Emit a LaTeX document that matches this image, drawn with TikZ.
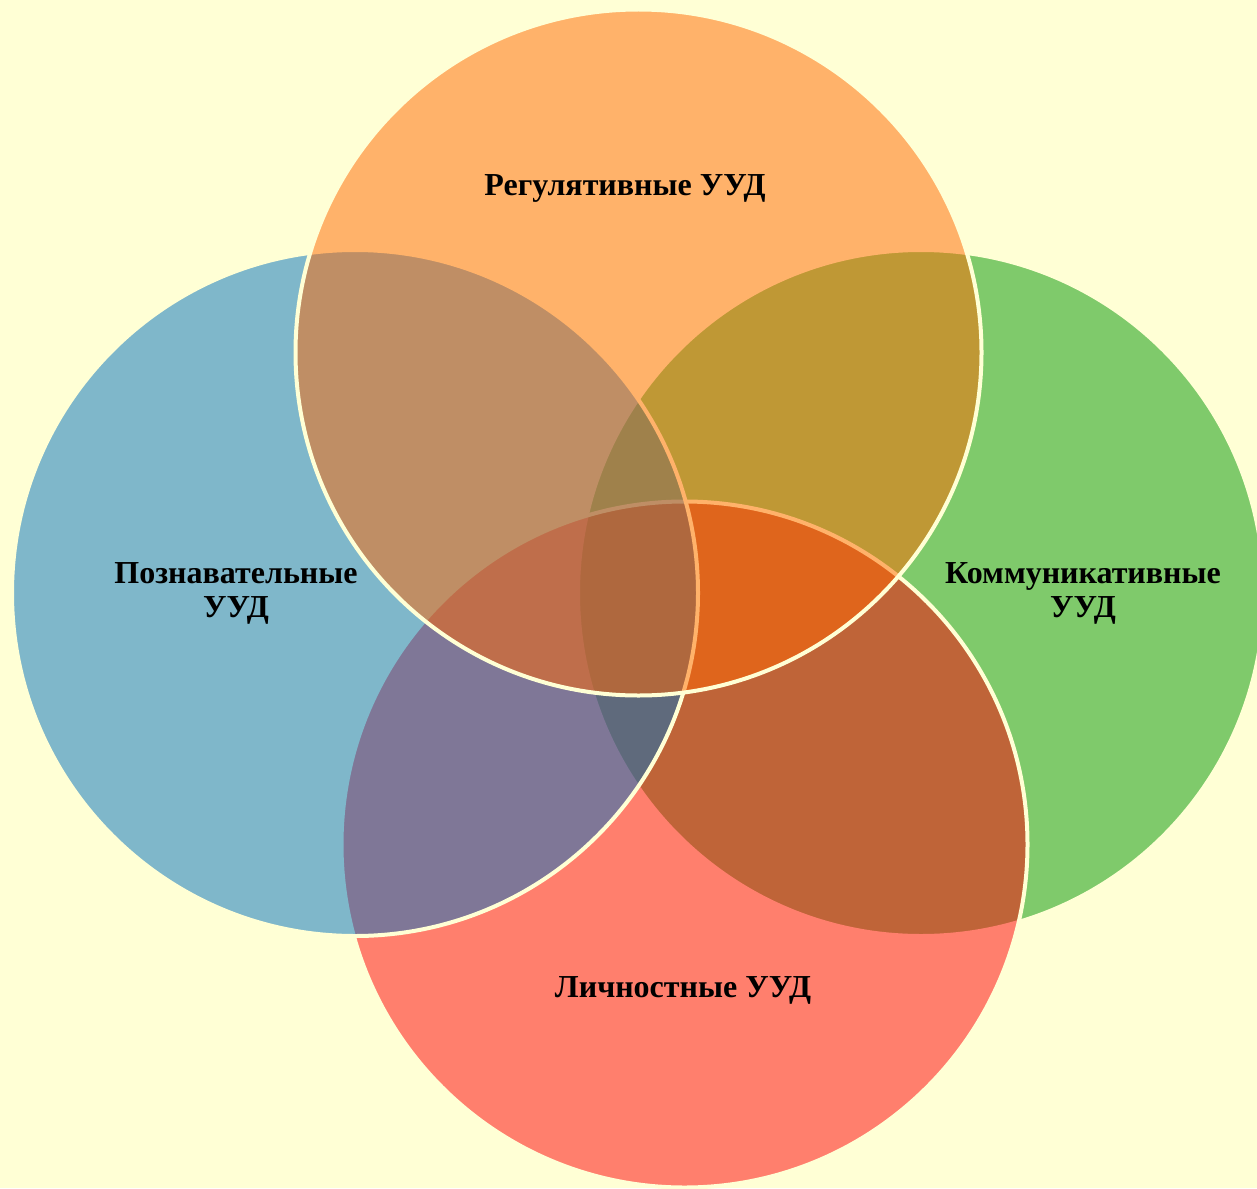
\documentclass[tikz,border=0pt]{standalone}
\usepackage{fontspec}
\setmainfont{Liberation Serif}
\definecolor{bgc}{RGB}{255,255,213}
\definecolor{cblue}{RGB}{0,113,193}
\definecolor{corange}{RGB}{255,103,1}
\definecolor{cgreen}{RGB}{1,151,3}
\definecolor{cred}{RGB}{255,0,7}
\tikzset{
  venn/.style={circle, inner sep=0pt, outer sep=0pt, minimum size=686pt, draw=bgc, line width=4pt, fill opacity=0.5, draw opacity=1},
  lbl/.style={font=\fontsize{32}{34}\selectfont\bfseries, align=center, text=black, inner sep=0pt}
}
\begin{document}
\begin{tikzpicture}[x=1pt,y=-1pt]
\fill[bgc] (0,0) rectangle (1257,1188);
\useasboundingbox (0,0) rectangle (1257,1188);
\node[venn, fill=cgreen] (green) at (921,593) {};
\node[venn, fill=cred] (red) at (684.5,844.5) {};
\node[venn, fill=cblue] (blue) at (355,593) {};
\node[venn, fill=corange] (orange) at (638.5,352.5) {};
\node[lbl] (t1) at (625,188) {Регулятивные УУД};
\node[lbl] (t2) at (236,593) {Познавательные\\УУД};
\node[lbl] (t3) at (1083,593) {Коммуникативные\\УУД};
\node[lbl] (t4) at (683,990) {Личностные УУД};
\end{tikzpicture}
\end{document}
